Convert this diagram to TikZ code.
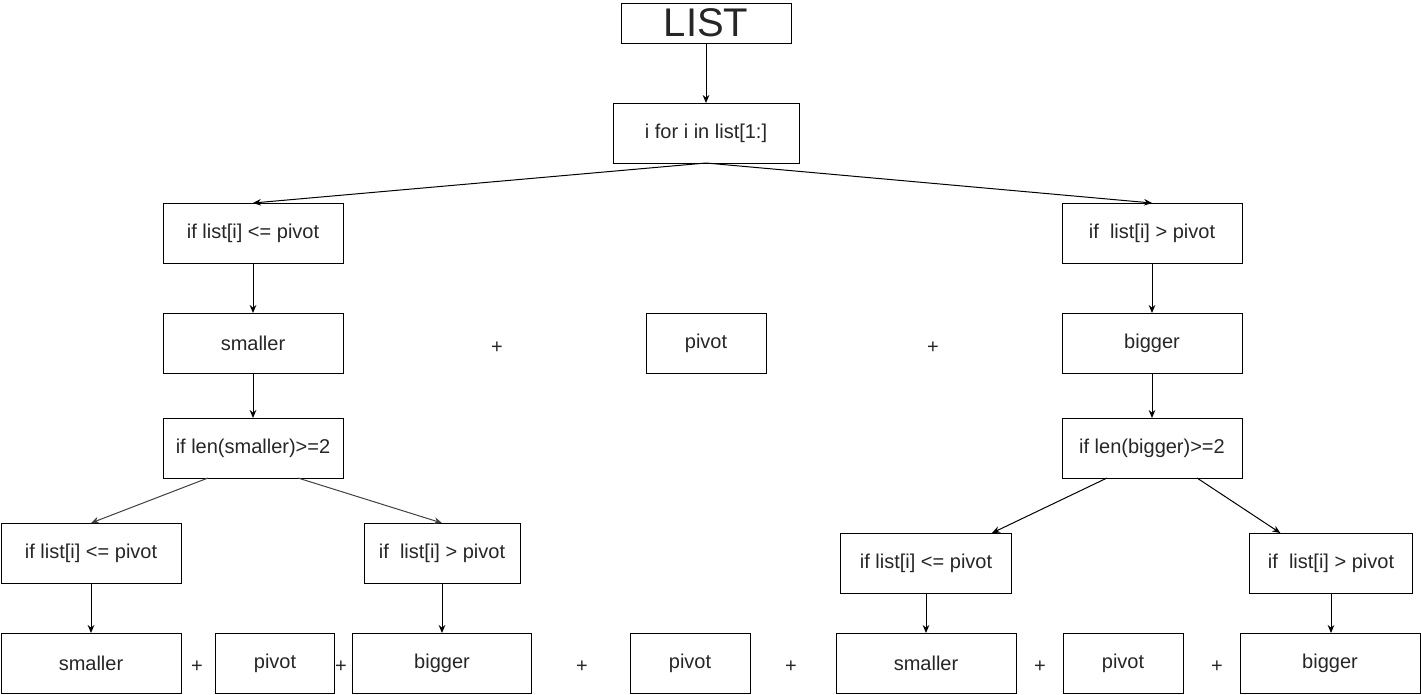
\documentclass[tikz,border=0pt]{standalone}
\usepackage{fontspec}
\setmainfont{Liberation Sans}
\usetikzlibrary{arrows.meta}

\begin{document}
\begin{tikzpicture}[x=0.75pt, y=-0.75pt,
    box/.style={draw, line width=0.75pt, inner sep=0pt, outer sep=0pt,
        minimum width=135pt, minimum height=45pt, font=\fontsize{15}{18}\selectfont,
        text=black!85},
    plus/.style={inner sep=0pt, font=\fontsize{15}{18}\selectfont, text=black!85},
    arr/.style={-{Stealth[length=6pt, width=5pt]}, line width=0.75pt}]

    % the page, in pixels of the sketch
    \useasboundingbox (0,0) rectangle (1421,694);

    % top of the tree
    \node[box, minimum width=127.5pt, minimum height=30pt,
        font=\fontsize{30}{34}\selectfont] (lst) at (706,23) {LIST};
    \node[box, minimum width=139.5pt] (iter) at (706,133) {i for i in list[1:]};

    % first split
    \node[box] (lsel) at (253,233) {if list[i] <= pivot};
    \node[box] (rsel) at (1152,233) {if\ \ list[i] > pivot};
    \node[box] (lsmall) at (253,343) {smaller};
    \node[box, minimum width=90pt] (mpiv) at (706,343) {pivot};
    \node[box] (rbig) at (1152,343) {bigger};
    \node[plus] (p1) at (497,348) {+};
    \node[plus] (p2) at (933,348) {+};
    \node[box] (llen) at (253,448) {if len(smaller)>=2};
    \node[box] (rlen) at (1152,448) {if len(bigger)>=2};

    % second split
    \node[box] (llsel) at (91,553) {if list[i] <= pivot};
    \node[box, minimum width=117pt] (lrsel) at (442,553) {if\ \ list[i] > pivot};
    \node[box, minimum width=128.25pt] (rlsel) at (926,563) {if list[i] <= pivot};
    \node[box, minimum width=122.25pt] (rrsel) at (1331,563) {if\ \ list[i] > pivot};

    % bottom row
    \node[box] (b1) at (91,663) {smaller};
    \node[box, minimum width=89.25pt] (b2) at (275,663) {pivot};
    \node[box, minimum width=134.25pt] (b3) at (442,663) {bigger};
    \node[box, minimum width=90pt] (b4) at (690,663) {pivot};
    \node[box] (b5) at (926,663) {smaller};
    \node[box, minimum width=90pt] (b6) at (1123,663) {pivot};
    \node[box] (b7) at (1330,663) {bigger};
    \node[plus] (q1) at (197,667) {+};
    \node[plus] (q2) at (341,667) {+};
    \node[plus] (q3) at (582,667) {+};
    \node[plus] (q4) at (791,667) {+};
    \node[plus] (q5) at (1040,667) {+};
    \node[plus] (q6) at (1217,667) {+};

    % arrows
    \draw[arr] (lst) -- (iter);
    \draw[arr] (iter.south) -- (lsel.north);
    \draw[arr] (iter.south) -- (rsel.north);
    \draw[arr] (lsel) -- (lsmall);
    \draw[arr] (lsmall) -- (llen);
    \draw[arr] (rsel) -- (rbig);
    \draw[arr] (rbig) -- (rlen);
    \draw[arr, black!75] ([xshift=-33.75pt]llen.south) -- (llsel.north);
    \draw[arr, black!75] ([xshift=33.75pt]llen.south) -- (lrsel.north);
    \draw[arr] ([xshift=-33.75pt]rlen.south) -- ([xshift=49.5pt]rlsel.north);
    \draw[arr] ([xshift=33.75pt]rlen.south) -- ([xshift=-38pt]rrsel.north);
    \draw[arr] (llsel) -- (b1);
    \draw[arr] (lrsel) -- (b3);
    \draw[arr] (rlsel) -- (b5);
    \draw[arr] (rrsel.south) -- (rrsel.south |- b7.north);

\end{tikzpicture}
\end{document}
